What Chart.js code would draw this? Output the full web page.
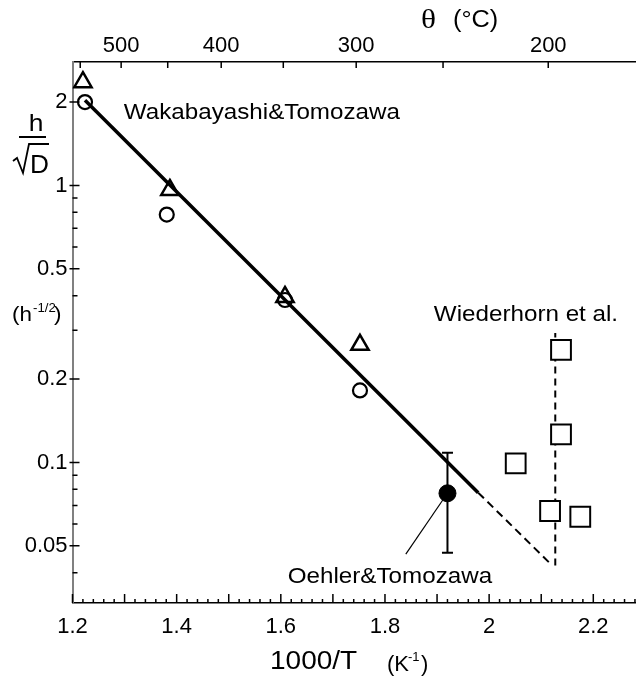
<!DOCTYPE html>
<html lang="en">
<head>
<meta charset="UTF-8">
<title>h/sqrt(D) vs 1000/T</title>
<script src="https://cdn.jsdelivr.net/npm/chart.js@4.4.0/dist/chart.umd.min.js"></script>
<style>
  html, body { margin: 0; padding: 0; background: #fff; overflow: hidden; }
  #chart { display: block; }
</style>
</head>
<body>
<canvas id="chart" width="636" height="684"></canvas>
<script>
// values: x = 1000/T (K^-1), y = h/sqrt(D) (h^-1/2)
const wakaCircleX = [1.224, 1.381, 1.608, 1.752];
const wakaCircleY = [2.0, 0.785, 0.386, 0.182];
const wakaTriX = [1.220, 1.387, 1.608, 1.752];
const wakaTriY = [2.36, 0.963, 0.396, 0.266];
const oehlerX = [1.920];
const oehlerY = [0.0774];
const oehlerLow = [0.0472];
const oehlerHigh = [0.1085];
const wiedX = [2.138, 2.138, 2.051, 2.117, 2.175];
const wiedY = [0.255, 0.1264, 0.0993, 0.0668, 0.0637];
const fitX = [1.224, 1.979];
const fitY = [2.03, 0.0778];
const extrapX = [1.979, 2.121];
const extrapY = [0.0778, 0.0425];
const wiedLineX = [2.127, 2.127];
const wiedLineY = [0.0425, 0.2935];
const leaderX = [1.911, 1.840];
const leaderY = [0.0732, 0.0467];

// ticks
const xTicks = [1.2, 1.4, 1.6, 1.8, 2.0, 2.2];
const yTicks = [0.05, 0.1, 0.2, 0.5, 1, 2];
const yMinor = [0.04, 0.06, 0.07, 0.08, 0.09, 0.3, 0.4, 0.6, 0.7, 0.8, 0.9];
const thetaTicks = [550, 500, 450, 400, 350, 300, 250, 200];
const thetaLabels = [500, 400, 300, 200];

// text notes, anchored in data units
const noteText = ['Wakabayashi&Tomozawa', 'Wiederhorn et al.', 'Oehler&Tomozawa'];
const noteX = [1.5636, 2.0707, 1.8095];
const noteY = [1.827, 0.3407, 0.0387];

const SANS = '"Liberation Sans", Arial, sans-serif';
const SERIF = '"Liberation Serif", "Times New Roman", serif';
const invT = t => 1000 / (t + 273.15);
const pts = (xs, ys) => xs.map((x, i) => ({ x: x, y: ys[i] }));

function wideText(ctx, txt, x, y, size, sx, align, family) {
    ctx.save();
    ctx.font = size + 'px ' + (family || SANS);
    ctx.textAlign = align || 'left';
    ctx.textBaseline = 'alphabetic';
    ctx.translate(x, y);
    ctx.scale(sx, 1);
    ctx.fillText(txt, 0, 0);
    ctx.restore();
}

// tick marks, error bar, notes and axis titles
const extras = {
    id: 'extras',
    beforeDatasetsDraw(chart) {
        const { ctx, scales: { x, y } } = chart;
        ctx.save();
        ctx.strokeStyle = '#000';
        ctx.lineWidth = 2;
        ctx.beginPath();
        oehlerX.forEach((v, i) => {
            const px = x.getPixelForValue(v);
            const lo = y.getPixelForValue(oehlerLow[i]);
            const hi = y.getPixelForValue(oehlerHigh[i]);
            ctx.moveTo(px, lo); ctx.lineTo(px, hi);
            ctx.moveTo(px - 5.5, lo); ctx.lineTo(px + 5.5, lo);
            ctx.moveTo(px - 5.5, hi); ctx.lineTo(px + 5.5, hi);
        });
        ctx.stroke();
        ctx.restore();
    },
    afterDraw(chart) {
        const { ctx, chartArea: a, scales: { x, x2, y } } = chart;
        ctx.save();
        ctx.strokeStyle = '#000';
        ctx.lineWidth = 1.5;
        ctx.beginPath();
        for (let i = 0; ; i++) {
            const v = 1.2 + i * 0.02;
            if (v > x.max + 1e-9) break;
            const px = x.getPixelForValue(v);
            const len = i % 5 === 0 ? 9 : 4;
            ctx.moveTo(px, a.bottom); ctx.lineTo(px, a.bottom - len);
        }
        thetaTicks.forEach(t => {
            const px = x2.getPixelForValue(invT(t));
            ctx.moveTo(px, a.top); ctx.lineTo(px, a.top + 6);
        });
        yTicks.forEach(v => {
            const py = y.getPixelForValue(v);
            ctx.moveTo(a.left - 3, py); ctx.lineTo(a.left + 7, py);
        });
        yMinor.forEach(v => {
            const py = y.getPixelForValue(v);
            ctx.moveTo(a.left, py); ctx.lineTo(a.left + 5, py);
        });
        ctx.stroke();

        ctx.fillStyle = '#000';
        ctx.textBaseline = 'middle';
        noteText.forEach((t, i) => {
            ctx.save();
            ctx.font = '22px ' + SANS;
            ctx.textAlign = 'center';
            ctx.translate(x.getPixelForValue(noteX[i]), y.getPixelForValue(noteY[i]));
            ctx.scale(1.1, 1);
            ctx.fillText(t, 0, 0);
            ctx.restore();
        });

        // top title
        wideText(ctx, '\u03b8', 421, 28, 28, 1.12, 'left', SERIF);
        wideText(ctx, '(\u00b0C)', 453, 27, 23, 1.1, 'left');
        // bottom title
        wideText(ctx, '1000/T', 270, 669, 25, 1.12, 'left');
        wideText(ctx, '(K', 387, 671, 22, 1, 'left');
        wideText(ctx, '-1', 408, 661, 13, 1, 'left');
        wideText(ctx, ')', 421, 671, 22, 1, 'left');
        // y title: h over sqrt(D)
        wideText(ctx, 'h', 36, 131, 24, 1.1, 'center');
        ctx.lineWidth = 2;
        ctx.beginPath();
        ctx.moveTo(19, 137); ctx.lineTo(46, 137);
        ctx.stroke();
        ctx.lineWidth = 1.8;
        ctx.beginPath();
        ctx.moveTo(13, 161); ctx.lineTo(17, 158);
        ctx.lineTo(23, 173); ctx.lineTo(29, 144); ctx.lineTo(49, 144);
        ctx.stroke();
        wideText(ctx, 'D', 30, 173, 25, 1.05, 'left');
        wideText(ctx, '(h', 12, 321, 20, 1.12, 'left');
        wideText(ctx, '-1/2', 33, 312, 12, 1.1, 'left');
        wideText(ctx, ')', 54, 321, 20, 1.12, 'left');
        ctx.restore();
    }
};

const tickFont = { size: 22, family: SANS };

new Chart(document.getElementById('chart'), {
    type: 'scatter',
    data: {
        datasets: [
            {
                data: pts(wiedX, wiedY), pointStyle: 'rect', pointRadius: 14,
                borderColor: '#000', backgroundColor: '#fff', borderWidth: 2
            },
            {
                data: pts(oehlerX, oehlerY), pointStyle: 'circle', pointRadius: 8.5,
                borderColor: '#000', backgroundColor: '#000', borderWidth: 1
            },
            {
                data: pts(wakaTriX, wakaTriY), pointStyle: 'triangle', pointRadius: 10,
                borderColor: '#000', backgroundColor: 'rgba(0,0,0,0)', borderWidth: 2.5
            },
            {
                data: pts(wakaCircleX, wakaCircleY), pointStyle: 'circle', pointRadius: 7,
                borderColor: '#000', backgroundColor: 'rgba(0,0,0,0)', borderWidth: 2.2
            },
            {
                data: pts(fitX, fitY), showLine: true, pointRadius: 0,
                borderColor: '#000', borderWidth: 3.5
            },
            {
                data: pts(extrapX, extrapY), showLine: true, pointRadius: 0,
                borderColor: '#000', borderWidth: 2, borderDash: [8, 5]
            },
            {
                data: pts(wiedLineX, wiedLineY), showLine: true, pointRadius: 0,
                borderColor: '#000', borderWidth: 2, borderDash: [7, 5]
            },
            {
                data: pts(leaderX, leaderY), showLine: true, pointRadius: 0,
                borderColor: '#000', borderWidth: 1.2
            }
        ]
    },
    options: {
        responsive: false,
        animation: false,
        events: [],
        layout: { padding: 0, autoPadding: false },
        plugins: { legend: { display: false }, tooltip: { enabled: false } },
        scales: {
            x: {
                type: 'linear', position: 'bottom', min: 1.2, max: 2.282,
                afterBuildTicks: s => { s.ticks = xTicks.map(v => ({ value: v })); },
                afterFit: s => { s.height = 81; s.paddingLeft = 0; s.paddingRight = 0; },
                grid: { display: false, drawTicks: false },
                border: { display: true, color: '#000', width: 1.5 },
                ticks: {
                    font: tickFont, color: '#000', padding: 11, maxRotation: 0, autoSkip: false,
                    callback: v => String(Math.round(v * 10) / 10)
                }
            },
            x2: {
                type: 'linear', position: 'top', min: 1.2, max: 2.282,
                afterBuildTicks: s => { s.ticks = thetaTicks.map(t => ({ value: invT(t) })); },
                afterFit: s => { s.height = 62; s.paddingLeft = 0; s.paddingRight = 0; },
                grid: { display: false, drawTicks: false },
                border: { display: true, color: '#000', width: 1.5 },
                ticks: {
                    font: tickFont, color: '#000', padding: 3, maxRotation: 0, autoSkip: false,
                    callback: v => {
                        const t = Math.round(1000 / v - 273.15);
                        return thetaLabels.includes(t) ? String(t) : '';
                    }
                }
            },
            y: {
                type: 'logarithmic', position: 'left', min: 0.0311, max: 2.79,
                afterBuildTicks: s => { s.ticks = yTicks.map(v => ({ value: v })); },
                afterFit: s => { s.width = 72.5; s.paddingTop = 0; s.paddingBottom = 0; },
                grid: { display: false, drawTicks: false },
                border: { display: true, color: '#808080', width: 2 },
                ticks: {
                    font: tickFont, color: '#000', padding: 5, autoSkip: false,
                    callback: v => String(v)
                }
            }
        }
    },
    plugins: [extras]
});
</script>
</body>
</html>
